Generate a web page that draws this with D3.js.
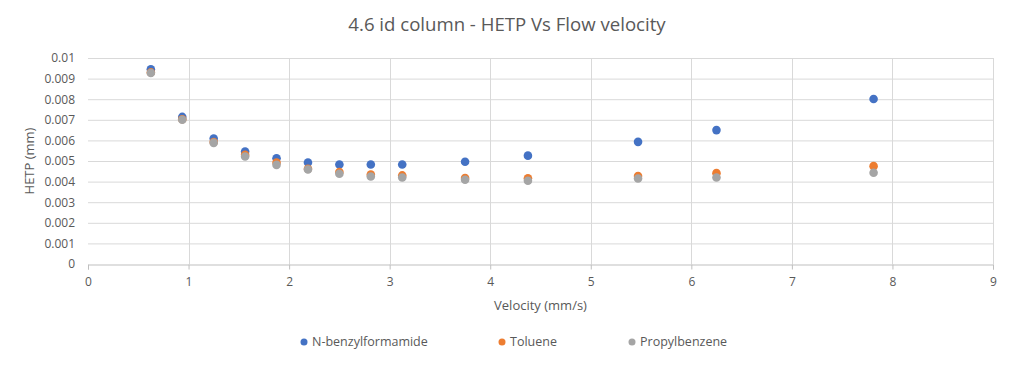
<!DOCTYPE html>
<html>
<head>
<meta charset="utf-8">
<script src="https://cdn.jsdelivr.net/npm/d3@7"></script>
<style>
  body { margin: 0; background: #fff; }
  text { font-family: "Open Sans", "Noto Sans", sans-serif; fill: #595959; }
</style>
</head>
<body>
<div id="chart"></div>
<script>
// data
const velocity = [0.625, 0.9375, 1.25, 1.5625, 1.875, 2.1875, 2.5, 2.8125, 3.125, 3.75, 4.375, 5.47, 6.25, 7.8125];
const benzylformamide = [0.00945, 0.00714, 0.00609, 0.00546, 0.00513, 0.00493, 0.00483, 0.00483, 0.00483, 0.00496, 0.00526, 0.00593, 0.0065, 0.00801];
const toluene = [0.0093, 0.00703, 0.00592, 0.0053, 0.00492, 0.00462, 0.00446, 0.00434, 0.0043, 0.00417, 0.00416, 0.00427, 0.00441, 0.00475];
const propylbenzene = [0.00927, 0.007, 0.00588, 0.00522, 0.00481, 0.00459, 0.00438, 0.00425, 0.0042, 0.00409, 0.00404, 0.00415, 0.0042, 0.00443];
const seriesNames = ['N-benzylformamide', 'Toluene', 'Propylbenzene'];
const seriesColors = ['#4472C4', '#ED7D31', '#A5A5A5'];
const xTicks = [0, 1, 2, 3, 4, 5, 6, 7, 8, 9];
const yTicks = [0, 0.001, 0.002, 0.003, 0.004, 0.005, 0.006, 0.007, 0.008, 0.009, 0.01];

const width = 1014, height = 371;
const margin = { top: 58, right: 21, bottom: 107, left: 88 };

const svg = d3.select('#chart')
  .append('svg')
  .attr('width', width)
  .attr('height', height);

const x = d3.scaleLinear()
  .domain([0, 9])
  .range([margin.left, width - margin.right]);

const y = d3.scaleLinear()
  .domain([0, 0.01])
  .range([height - margin.bottom, margin.top]);

// gridlines
svg.append('g')
  .selectAll('line')
  .data(yTicks.slice(1))
  .join('line')
  .attr('x1', x(0)).attr('x2', x(9))
  .attr('y1', d => y(d) + 0.5).attr('y2', d => y(d) + 0.5)
  .attr('stroke', '#d9d9d9');

svg.append('g')
  .selectAll('line')
  .data(xTicks.slice(1))
  .join('line')
  .attr('x1', d => Math.round(x(d)) + 0.5).attr('x2', d => Math.round(x(d)) + 0.5)
  .attr('y1', y(0.01)).attr('y2', y(0))
  .attr('stroke', '#d9d9d9');

// x axis
const xAxis = svg.append('g')
  .attr('transform', `translate(0,${y(0) + 0.5})`)
  .call(d3.axisBottom(x).tickValues(xTicks).tickFormat(d3.format('d')).tickSize(5).tickPadding(8));
xAxis.select('.domain').attr('stroke', '#bfbfbf');
xAxis.selectAll('.tick line').attr('stroke', '#bfbfbf');
xAxis.selectAll('.tick text').style('font-size', '12px').attr('fill', '#595959');

// y axis labels
const yAxis = svg.append('g')
  .attr('transform', `translate(${x(0)},0)`)
  .call(d3.axisLeft(y).tickValues(yTicks).tickFormat(d => d === 0 ? '0' : d3.format('')(+d.toFixed(3))).tickSize(0).tickPadding(13));
yAxis.select('.domain').remove();
yAxis.selectAll('.tick text').style('font-size', '12px').attr('fill', '#595959');

// points
const allSeries = [benzylformamide, toluene, propylbenzene];
allSeries.forEach((vals, i) => {
  svg.append('g')
    .selectAll('circle')
    .data(vals)
    .join('circle')
    .attr('cx', (d, j) => x(velocity[j]))
    .attr('cy', d => y(d))
    .attr('r', 4.3)
    .attr('fill', seriesColors[i]);
});

// titles
svg.append('text')
  .attr('x', width / 2).attr('y', 31)
  .attr('text-anchor', 'middle')
  .style('font-size', '18.6px')
  .text('4.6 id column - HETP Vs Flow velocity');

svg.append('text')
  .attr('x', (x(0) + x(9)) / 2).attr('y', 310)
  .attr('text-anchor', 'middle')
  .style('font-size', '13px')
  .text('Velocity (mm/s)');

svg.append('text')
  .attr('transform', `translate(34,${(y(0) + y(0.01)) / 2}) rotate(-90)`)
  .attr('text-anchor', 'middle')
  .style('font-size', '13px')
  .text('HETP (mm)');

// legend
const legendX = [304, 502, 632];
const legend = svg.append('g')
  .selectAll('g')
  .data(seriesNames)
  .join('g')
  .attr('transform', (d, i) => `translate(${legendX[i]},342)`);
legend.append('circle').attr('r', 3.5).attr('fill', (d, i) => seriesColors[i]);
legend.append('text')
  .attr('x', 8).attr('dy', '0.35em')
  .style('font-size', '12.5px')
  .text(d => d);
</script>
</body>
</html>
